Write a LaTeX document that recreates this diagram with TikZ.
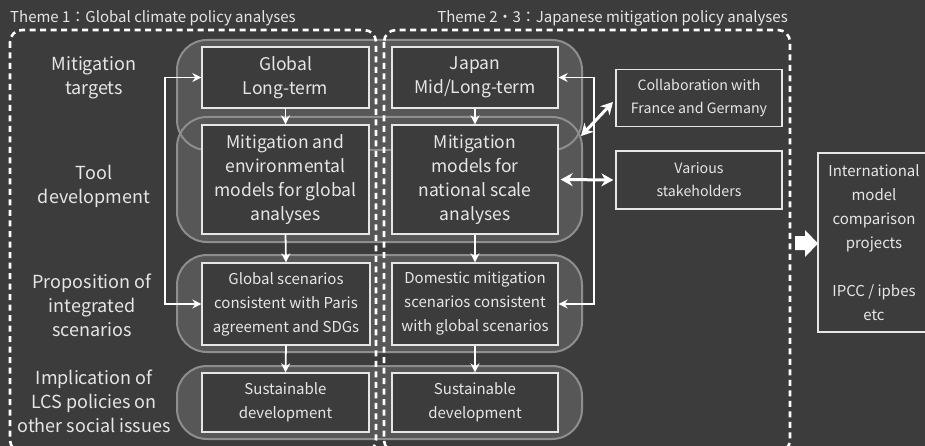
\documentclass[tikz,border=0pt]{standalone}
\usepackage{fontspec}
\setmainfont{Noto Sans CJK JP}
\usetikzlibrary{arrows.meta}
\definecolor{bgc}{HTML}{3C3C3C}
\definecolor{bandf}{HTML}{575757}
\definecolor{bandd}{HTML}{8E8E8E}
\definecolor{txt}{HTML}{E6E6E6}
\definecolor{boxd}{HTML}{E6E6E6}
\tikzset{
  band/.style={fill=bandf, rounded corners=30pt},
  bandline/.style={draw=bandd, line width=2pt, rounded corners=30pt},
  themebox/.style={draw=white, line width=2.6pt, dash pattern=on 6pt off 4.5pt, rounded corners=12pt},
  ibox/.style={draw=boxd, fill=bgc, line width=1.3pt, align=center, text=txt, inner sep=0pt},
  bigtxt/.style={font=\fontsize{17.5}{24}\selectfont},
  midtxt/.style={font=\fontsize{15}{24}\selectfont},
  imtxt/.style={font=\fontsize{15}{24}\selectfont},
  smtxt/.style={font=\fontsize{14.2}{23}\selectfont},
  lbl/.style={align=center, text=txt, font=\fontsize{18}{24}\selectfont},
  ttl/.style={text=txt, font=\fontsize{15}{16}\selectfont, inner sep=0pt},
  arr/.style={draw=white, line width=1.8pt, -{Stealth[length=9pt,width=9pt]}},
  darr/.style={draw=white, line width=1.8pt, {Stealth[length=9pt,width=9pt]}-{Stealth[length=9pt,width=9pt]}},
  tarr/.style={draw=white, line width=3pt, {Stealth[length=12pt,width=13pt]}-{Stealth[length=12pt,width=13pt]}},
}
\begin{document}
\begin{tikzpicture}[x=1pt,y=-1pt]
\fill[bgc] (0,0) rectangle (925,446);
\useasboundingbox (0,0) rectangle (925,446);
% bands
\fill[band] (177,40) rectangle (582,150);
\fill[band] (177,117) rectangle (582,242);
\fill[band] (177,255) rectangle (582,352);
\fill[band] (177,366) rectangle (582,439);
\draw[bandline] (177,40) rectangle (582,150);
\draw[bandline] (177,117) rectangle (582,242);
\draw[bandline] (177,255) rectangle (582,352);
\draw[bandline] (177,366) rectangle (582,439);
% theme boxes
\draw[themebox] (10,30) rectangle (376,452);
\draw[themebox] (384,30) rectangle (790,452);
\node[ttl, anchor=base west] (t1) at (10,23) {Theme 1：Global climate policy analyses};
\node[ttl, anchor=base east] (t2) at (788,23) {Theme 2・3：Japanese mitigation policy analyses};
% row labels
\node[lbl] (l1) at (94,78) {Mitigation\\targets};
\node[lbl] (l2) at (94,186) {Tool\\development};
\node[lbl] (l3) at (92,305) {Proposition of\\integrated\\scenarios};
\node[lbl] (l4) at (94,401) {Implication of\\LCS policies on\\other social issues};
% inner boxes
\node[ibox, bigtxt, minimum width=167pt, minimum height=61pt] (gl) at (285.5,77.5) {Global\\Long-term};
\node[ibox, bigtxt, minimum width=166pt, minimum height=61pt] (jp) at (475,77.5) {Japan\\Mid/Long-term};
\node[ibox, bigtxt, minimum width=167pt, minimum height=109pt] (gm) at (285.5,179.5) {Mitigation and\\environmental\\models for global\\analyses};
\node[ibox, bigtxt, minimum width=166pt, minimum height=109pt] (jm) at (475,179.5) {Mitigation\\models for\\national scale\\analyses};
\node[ibox, midtxt, minimum width=168pt, minimum height=82pt] (gs) at (286,304) {Global scenarios\\consistent with Paris\\agreement and SDGs};
\node[ibox, midtxt, minimum width=166pt, minimum height=82pt] (js) at (475,304) {Domestic mitigation\\scenarios consistent\\with global scenarios};
\node[ibox, midtxt, minimum width=167pt, minimum height=59pt] (gd) at (285.5,402.5) {Sustainable\\development};
\node[ibox, midtxt, minimum width=166pt, minimum height=59pt] (jd) at (475,402.5) {Sustainable\\development};
\node[ibox, smtxt, minimum width=166pt, minimum height=57pt] (co) at (699,98) {Collaboration with\\France and Germany};
\node[ibox, smtxt, minimum width=166pt, minimum height=58pt] (vs) at (699,180) {Various\\stakeholders};
\node[ibox, imtxt, minimum width=112pt, minimum height=179pt] (im) at (874,242.5) {International\\model\\comparison\\projects\\[24pt]IPCC / ipbes\\etc};
% vertical arrows
\draw[arr] (gl.south) -- (gm.north);
\draw[arr] (gm.south) -- (gs.north);
\draw[arr] (gs.south) -- (gd.north);
\draw[arr] (jp.south) -- (jm.north);
\draw[arr] (jm.south) -- (js.north);
\draw[arr] (js.south) -- (jd.north);
% loops
\draw[darr] (gl.west) -- ++(-36,0) |- (gs.west);
\draw[darr] (jp.east) -- ++(35,0) |- (js.east);
% collaboration arrows
\coordinate (d1) at (581,136);
\coordinate (d2) at (613,102);
\draw[tarr] (d1) -- (d2);
\draw[tarr, shorten <=2pt, shorten >=2pt] (jm.east) -- (vs.west);
% big arrow
\fill[white] (795,236) -- (805,236) -- (805,230) -- (818,243.5) -- (805,257) -- (805,250) -- (795,250) -- cycle;
\end{tikzpicture}
\end{document}
